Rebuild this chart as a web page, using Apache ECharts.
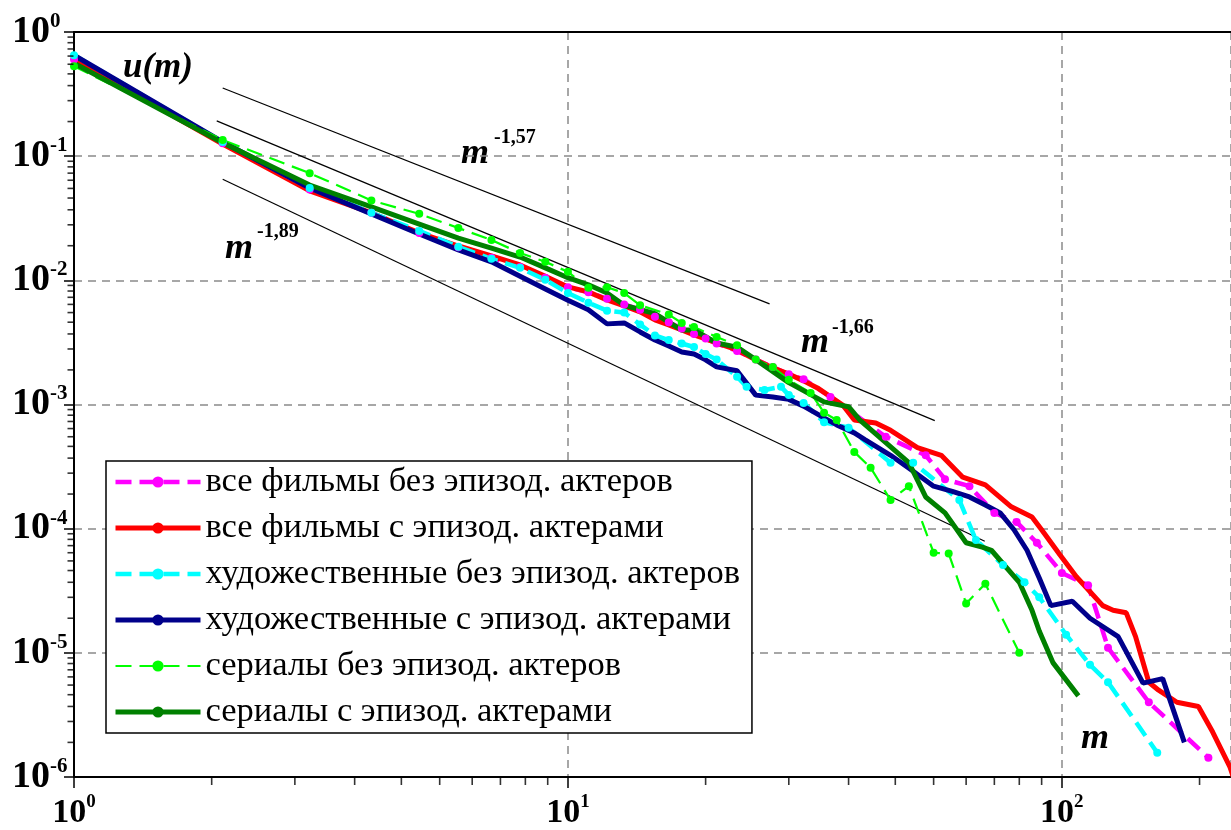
<!DOCTYPE html>
<html><head><meta charset="utf-8">
<script src="https://cdn.jsdelivr.net/npm/echarts@6/dist/echarts.min.js"></script>
<style>html,body{margin:0;padding:0;background:#fff}#c{width:1231px;height:830px}</style>
</head><body><div id="c"></div>
<script>
// ---- series names ----
const seriesNames = [
  'все фильмы без эпизод. актеров',
  'все фильмы с эпизод. актерами',
  'художественные без эпизод. актеров',
  'художественные с эпизод. актерами',
  'сериалы без эпизод. актеров',
  'сериалы с эпизод. актерами'
];
// ---- data: m and u(m) ----
const mAllNoEp = [1,2,3,4,5,6,7,8,9,10,11,12,13,14,15,16,17,18,19,20,22,24,26,28,30,34,44,53,58,65,73,81,89,100,113,124,150,198];
const uAllNoEp = [0.60,0.127,0.054,0.035,0.024,0.0185,0.0152,0.0128,0.0105,0.0088,0.0080,0.0071,0.0064,0.0058,0.0051,0.0046,0.0041,0.0037,0.0034,0.0031,0.0027,0.0023,0.0020,0.00175,0.0016,0.00115,5.5e-4,3.9e-4,2.5e-4,2.2e-4,1.34e-4,1.13e-4,7.7e-5,4.4e-5,3.5e-5,1.1e-5,4.0e-6,1.43e-6];

const mAllEp = [1,2,3,4,5,6,7,8,9,10,11,12,13,14,15,16,17,18,19,20,22,24,26,28,30,32,36,38,42,45,51,57,63,70,79,87,91,99,107,121,127,135,141,150,157,171,189,202,219,232];
const uAllEp = [0.60,0.125,0.0525,0.0349,0.0241,0.0189,0.0157,0.0133,0.0108,0.00885,0.00807,0.00695,0.00622,0.00557,0.0048,0.00438,0.00398,0.00363,0.00337,0.00313,0.00275,0.00229,0.00197,0.00176,0.00155,0.00136,9.9e-4,7.5e-4,7.1e-4,6.2e-4,4.5e-4,3.9e-4,2.6e-4,2.25e-4,1.5e-4,1.24e-4,9.8e-5,6.2e-5,4.1e-5,2.4e-5,2.2e-5,2.1e-5,1.35e-5,5.8e-6,5.0e-6,4.0e-6,3.7e-6,2.3e-6,1.2e-6,6e-7];

const mFeatNoEp = [1,2,3,4,5,6,7,8,9,10,11,12,13,14,15,16,17,18,19,20,22,23,25,27,28,30,33,37,45,50,62,67,76,84,90,102,114,124,156];
const uFeatNoEp = [0.65,0.13,0.0555,0.035,0.025,0.0186,0.0149,0.0126,0.0101,0.0079,0.0066,0.0057,0.0055,0.0044,0.0036,0.0033,0.0031,0.0029,0.00255,0.0023,0.00167,0.00139,0.00131,0.00139,0.00119,0.00103,7.2e-4,6.5e-4,3.4e-4,3.4e-4,1.7e-4,8.1e-5,5.1e-5,3.7e-5,2.8e-5,1.4e-5,8.0e-6,5.8e-6,1.57e-6];

const mFeatEp = [1,2,3,4,5,6,7,8,9,10,11,12,13,14,15,16,17,18,19,20,22,24,26,28,30,33,35,38,40,45,50,55,60,65,70,75,80,85,90,95,105,114,130,146,160,177];
const uFeatEp = [0.65,0.13,0.0555,0.0343,0.0236,0.0176,0.0141,0.0108,0.00853,0.0069,0.0058,0.00446,0.00454,0.00384,0.00331,0.00296,0.00265,0.00255,0.00229,0.00201,0.00187,0.00119,0.00115,0.0011,9.7e-4,7.8e-4,6.85e-4,5.9e-4,5.2e-4,3.9e-4,2.9e-4,2.2e-4,2.0e-4,1.8e-4,1.55e-4,1.34e-4,9.8e-5,6.7e-5,4.0e-5,2.4e-5,2.6e-5,1.9e-5,1.35e-5,5.7e-6,6.2e-6,1.9e-6];

const mSerNoEp = [1,2,3,4,5,6,7,8,9,10,11,12,13,14,16,17,18,20,22,24,26,28,31,33,35,38,41,45,49,55,59,64,70,82];
const uSerNoEp = [0.53,0.135,0.073,0.044,0.0343,0.0264,0.0211,0.0166,0.0141,0.0117,0.0087,0.0088,0.0079,0.0063,0.0053,0.00454,0.0042,0.0035,0.003,0.0023,0.002,0.00158,0.00124,8.6e-4,7.5e-4,4.15e-4,3.1e-4,1.7e-4,2.2e-4,6.4e-5,6.3e-5,2.5e-5,3.6e-5,1.0e-5];

const mSerEp = [1,2,3,4,5,6,7,8,9,10,11,12,13,15,17,18,20,22,24,28,33,37,39,49,53,58,64,69,72,82,87,90,96,108];
const uSerEp = [0.56,0.128,0.0586,0.039,0.0284,0.0219,0.0182,0.0154,0.0126,0.0105,0.0092,0.0079,0.0063,0.0054,0.00398,0.00398,0.00313,0.0029,0.0023,0.0015,0.00105,9.6e-4,7.5e-4,3.4e-4,1.8e-4,1.34e-4,7.7e-5,7.1e-5,6.7e-5,3.7e-5,2.2e-5,1.5e-5,8.3e-6,4.5e-6];

// ---- power-law guide lines u = C * m^(-a) ----
const refLabels = ['-1,57', '-1,66', '-1,89'];
const refExp  = [1.57, 1.66, 1.89];
const refCoef = [1.05, 0.58, 0.2416];
const refFrom = [2.0, 1.945, 2.0];
const refTo   = [25.6, 55.3, 69.8];

// ---- axes ----
const xMin = 1, xMax = 220;
const yMin = 1e-6, yMax = 1;
// minor ticks: each decade split into ten equal (linear) parts
const minorSteps = [1.9, 2.8, 3.7, 4.6, 5.5, 6.4, 7.3, 8.2, 9.1];
const xDecades = [1, 10, 100];
const yDecades = [1e-6, 1e-5, 1e-4, 1e-3, 1e-2, 1e-1];

const xMinorTicks = [];
xDecades.forEach(d => minorSteps.forEach(s => { const v = d * s; if (v < xMax) xMinorTicks.push(v); }));
const yMinorTicks = [];
yDecades.forEach(d => minorSteps.forEach(s => yMinorTicks.push(d * s)));

const SERIF = "'Liberation Serif', 'Times New Roman', serif";
const colors = ['#ff00ff', '#ff0000', '#00ffff', '#00008b', '#00ff00', '#008000'];
const widths = [4.5, 5, 4.5, 5, 2.2, 5];
const dashed = [true, false, true, false, true, false];

function pairs(ms, us) { return ms.map((m, i) => [m, us[i]]); }
function decadeLabel(v) {
  const e = Math.round(Math.log10(v));
  return '{b|10}{s|' + (e < 0 ? '-' + (-e) : String(e)) + '}';
}

const dataSets = [
  pairs(mAllNoEp, uAllNoEp), pairs(mAllEp, uAllEp), pairs(mFeatNoEp, uFeatNoEp),
  pairs(mFeatEp, uFeatEp), pairs(mSerNoEp, uSerNoEp), pairs(mSerEp, uSerEp)
];

const lineStyleOf = i => dashed[i]
  ? { color: colors[i], width: widths[i], type: [16, 8] }
  : { color: colors[i], width: widths[i], type: 'solid' };

const mainSeries = dataSets.map((d, i) => ({
  type: 'line', name: seriesNames[i], data: d, xAxisIndex: 0, yAxisIndex: 0,
  symbol: dashed[i] ? 'circle' : 'none', symbolSize: dashed[i] ? 8 : 0, showSymbol: dashed[i],
  itemStyle: { color: colors[i] },
  lineStyle: lineStyleOf(i),
  animation: false, silent: true, clip: true, z: 3
}));

const refSeries = refExp.map((a, i) => ({
  type: 'line', name: 'ref' + i, xAxisIndex: 0, yAxisIndex: 0,
  data: [refFrom[i], refTo[i]].map(m => [m, refCoef[i] * Math.pow(m, -a)]),
  symbol: 'none', lineStyle: { color: '#000', width: 1.2 }, animation: false, silent: true, z: 2
}));

// minor tick marks drawn as small bar-shaped symbols placed on the axes via the axis scales
const tickSeries = [
  {
    type: 'scatter', name: 'xMinorTicks', xAxisIndex: 0, yAxisIndex: 0, silent: true, clip: false, z: 8,
    data: xMinorTicks.map(v => [v, yMin]),
    symbol: 'rect', symbolSize: [1.6, 7], symbolOffset: [0, 4.5],
    itemStyle: { color: '#000' }, animation: false
  },
  {
    type: 'scatter', name: 'yMinorTicks', xAxisIndex: 0, yAxisIndex: 0, silent: true, clip: false, z: 8,
    data: yMinorTicks.map(v => [xMin, v]),
    symbol: 'rect', symbolSize: [6, 1.6], symbolOffset: [-3.5, 0],
    itemStyle: { color: '#000' }, animation: false
  }
];

const splitLineStyle = { show: true, lineStyle: { color: '#8a8a8a', width: 1.5, type: [8, 6] } };

const option = {
  backgroundColor: '#fff',
  animation: false,
  grid: { left: 74, top: 32, right: 0, bottom: 53, containLabel: false },
  xAxis: [
    {
      type: 'log', logBase: 10, min: xMin, max: xMax, position: 'bottom',
      axisLine: { show: true, onZero: false, lineStyle: { color: '#000', width: 2 } },
      axisTick: { show: true, length: 11, lineStyle: { color: '#000', width: 1.5 } },
      minorTick: { show: false },
      splitLine: splitLineStyle,
      axisLabel: {
        formatter: decadeLabel, margin: 16, showMaxLabel: false,
        rich: {
          b: { fontFamily: SERIF, fontWeight: 'bold', fontSize: 34, lineHeight: 40, color: '#000' },
          s: { fontFamily: SERIF, fontWeight: 'bold', fontSize: 19, lineHeight: 24, verticalAlign: 'top', color: '#000' }
        }
      }
    },
    {
      type: 'log', logBase: 10, min: xMin, max: xMax, position: 'top', gridIndex: 0,
      axisLine: { show: true, lineStyle: { color: '#000', width: 2 } },
      axisTick: { show: false }, axisLabel: { show: false }, splitLine: { show: false }
    }
  ],
  yAxis: [
    {
      type: 'log', logBase: 10, min: yMin, max: yMax, position: 'left',
      axisLine: { show: true, onZero: false, lineStyle: { color: '#000', width: 2 } },
      axisTick: { show: true, length: 10, lineStyle: { color: '#000', width: 1.5 } },
      minorTick: { show: false },
      splitLine: splitLineStyle,
      axisLabel: {
        formatter: decadeLabel, margin: 62, align: 'left',
        rich: {
          b: { fontFamily: SERIF, fontWeight: 'bold', fontSize: 38, lineHeight: 42, color: '#000' },
          s: { fontFamily: SERIF, fontWeight: 'bold', fontSize: 21, lineHeight: 25, verticalAlign: 'top', color: '#000' }
        }
      }
    }
  ],
  legend: {
    show: true, orient: 'vertical', left: 106, top: 461,
    data: seriesNames.map((n, i) => ({ name: n, lineStyle: { width: widths[i] } })),
    selectedMode: false,
    backgroundColor: '#fff', borderColor: '#000', borderWidth: 1.5, borderRadius: 0,
    padding: [3, 12, 3, 7], itemGap: 10, itemWidth: 85, itemHeight: 14,
    textStyle: { fontFamily: SERIF, fontSize: 34.5, lineHeight: 36, color: '#000' }
  },
  graphic: { elements: [
    { type: 'text', left: 123, top: 50, style: { text: 'u(m)', font: "italic bold 35px 'Liberation Serif'", fill: '#000' } },
    { type: 'text', x: 461, y: 154, style: { text: 'm', font: "italic bold 36px 'Liberation Serif'", fill: '#000', verticalAlign: 'middle', align: 'left' } },
    { type: 'text', x: 494, y: 138, style: { text: refLabels[0], font: "bold 20px 'Liberation Serif'", fill: '#000', verticalAlign: 'middle', align: 'left' } },
    { type: 'text', x: 801, y: 343, style: { text: 'm', font: "italic bold 36px 'Liberation Serif'", fill: '#000', verticalAlign: 'middle', align: 'left' } },
    { type: 'text', x: 832, y: 328, style: { text: refLabels[1], font: "bold 20px 'Liberation Serif'", fill: '#000', verticalAlign: 'middle', align: 'left' } },
    { type: 'text', x: 225, y: 249, style: { text: 'm', font: "italic bold 36px 'Liberation Serif'", fill: '#000', verticalAlign: 'middle', align: 'left' } },
    { type: 'text', x: 257, y: 232, style: { text: refLabels[2], font: "bold 20px 'Liberation Serif'", fill: '#000', verticalAlign: 'middle', align: 'left' } },
    { type: 'text', x: 1081, y: 739, style: { text: 'm', font: "italic bold 36px 'Liberation Serif'", fill: '#000', verticalAlign: 'middle', align: 'left' } }
  ] },
  series: refSeries.concat(mainSeries, tickSeries)
};

const chart = echarts.init(document.getElementById('c'), null, { renderer: 'canvas' });
chart.setOption(option);
</script></body></html>
